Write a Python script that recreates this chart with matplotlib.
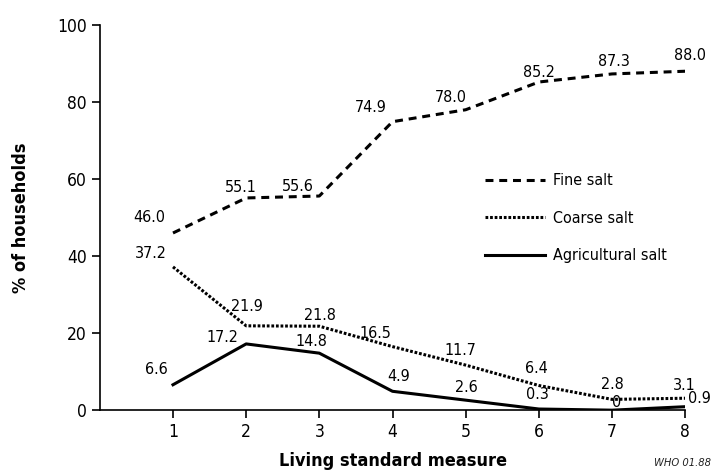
import matplotlib.pyplot as plt

plt.rcParams['font.family'] = ['DejaVu Sans']
plt.rcParams['font.stretch'] = 'condensed'

x = [1, 2, 3, 4, 5, 6, 7, 8]
fine = [46.0, 55.1, 55.6, 74.9, 78.0, 85.2, 87.3, 88.0]
coarse = [37.2, 21.9, 21.8, 16.5, 11.7, 6.4, 2.8, 3.1]
agri = [6.6, 17.2, 14.8, 4.9, 2.6, 0.3, 0, 0.9]
fine_lbl = ["46.0", "55.1", "55.6", "74.9", "78.0", "85.2", "87.3", "88.0"]
coarse_lbl = ["37.2", "21.9", "21.8", "16.5", "11.7", "6.4", "2.8", "3.1"]
agri_lbl = ["6.6", "17.2", "14.8", "4.9", "2.6", "0.3", "0", "0.9"]

# label offsets in pixels (dx, dy)
fine_off = [(-24, 15), (-5, 10), (-21, 10), (-22, 14), (-15, 12), (0, 10), (2, 12), (5, 16)]
coarse_off = [(-22, 13), (1, 19), (1, 11), (-17, 13), (-5, 15), (-2, 17), (0, 15), (-1, 13)]
agri_off = [(-17, 15), (-24, 6), (-8, 12), (6, 15), (1, 13), (-1, 15), (5, 8), (14, 8)]

fig = plt.figure(figsize=(7.13, 4.72), dpi=100)
ax = fig.add_axes([0.140, 0.131, 0.821, 0.816])

ax.plot(x, fine, color='black', lw=2.2, linestyle=(0, (2.6, 1.9)), label='Fine salt')
ax.plot(x, coarse, color='black', lw=2.2, linestyle=(0, (0.9, 0.6)), label='Coarse salt')
ax.plot(x, agri, color='black', lw=2.2, linestyle='-', label='Agricultural salt')

for vals, lbls, offs in [(fine, fine_lbl, fine_off), (coarse, coarse_lbl, coarse_off), (agri, agri_lbl, agri_off)]:
    for xi, v, t, o in zip(x, vals, lbls, offs):
        ax.annotate(t, (xi, v), xytext=o, textcoords='offset pixels',
                    ha='center', va='center', fontsize=11.5)

ax.set_xlim(0, 8)
ax.set_ylim(0, 100)
ax.set_xticks(x)
ax.set_yticks([0, 20, 40, 60, 80, 100])
ax.tick_params(labelsize=12.5, length=6, width=1.2)
for s in ['top', 'right']:
    ax.spines[s].set_visible(False)
for s in ['left', 'bottom']:
    ax.spines[s].set_linewidth(1.2)

ax.set_xlabel('Living standard measure', fontsize=13, fontweight='bold', labelpad=8)
ax.set_ylabel('% of households', fontsize=13, fontweight='bold', labelpad=19)

ax.legend(loc='upper left', bbox_to_anchor=(0.633, 0.652), frameon=False, fontsize=11.5,
          handlelength=3.8, labelspacing=1.4, handletextpad=0.5)

fig.text(0.997, 0.012, 'WHO 01.88', fontsize=8, style='italic', color='#222222', ha='right')

fig.savefig('out.png', dpi=100)
